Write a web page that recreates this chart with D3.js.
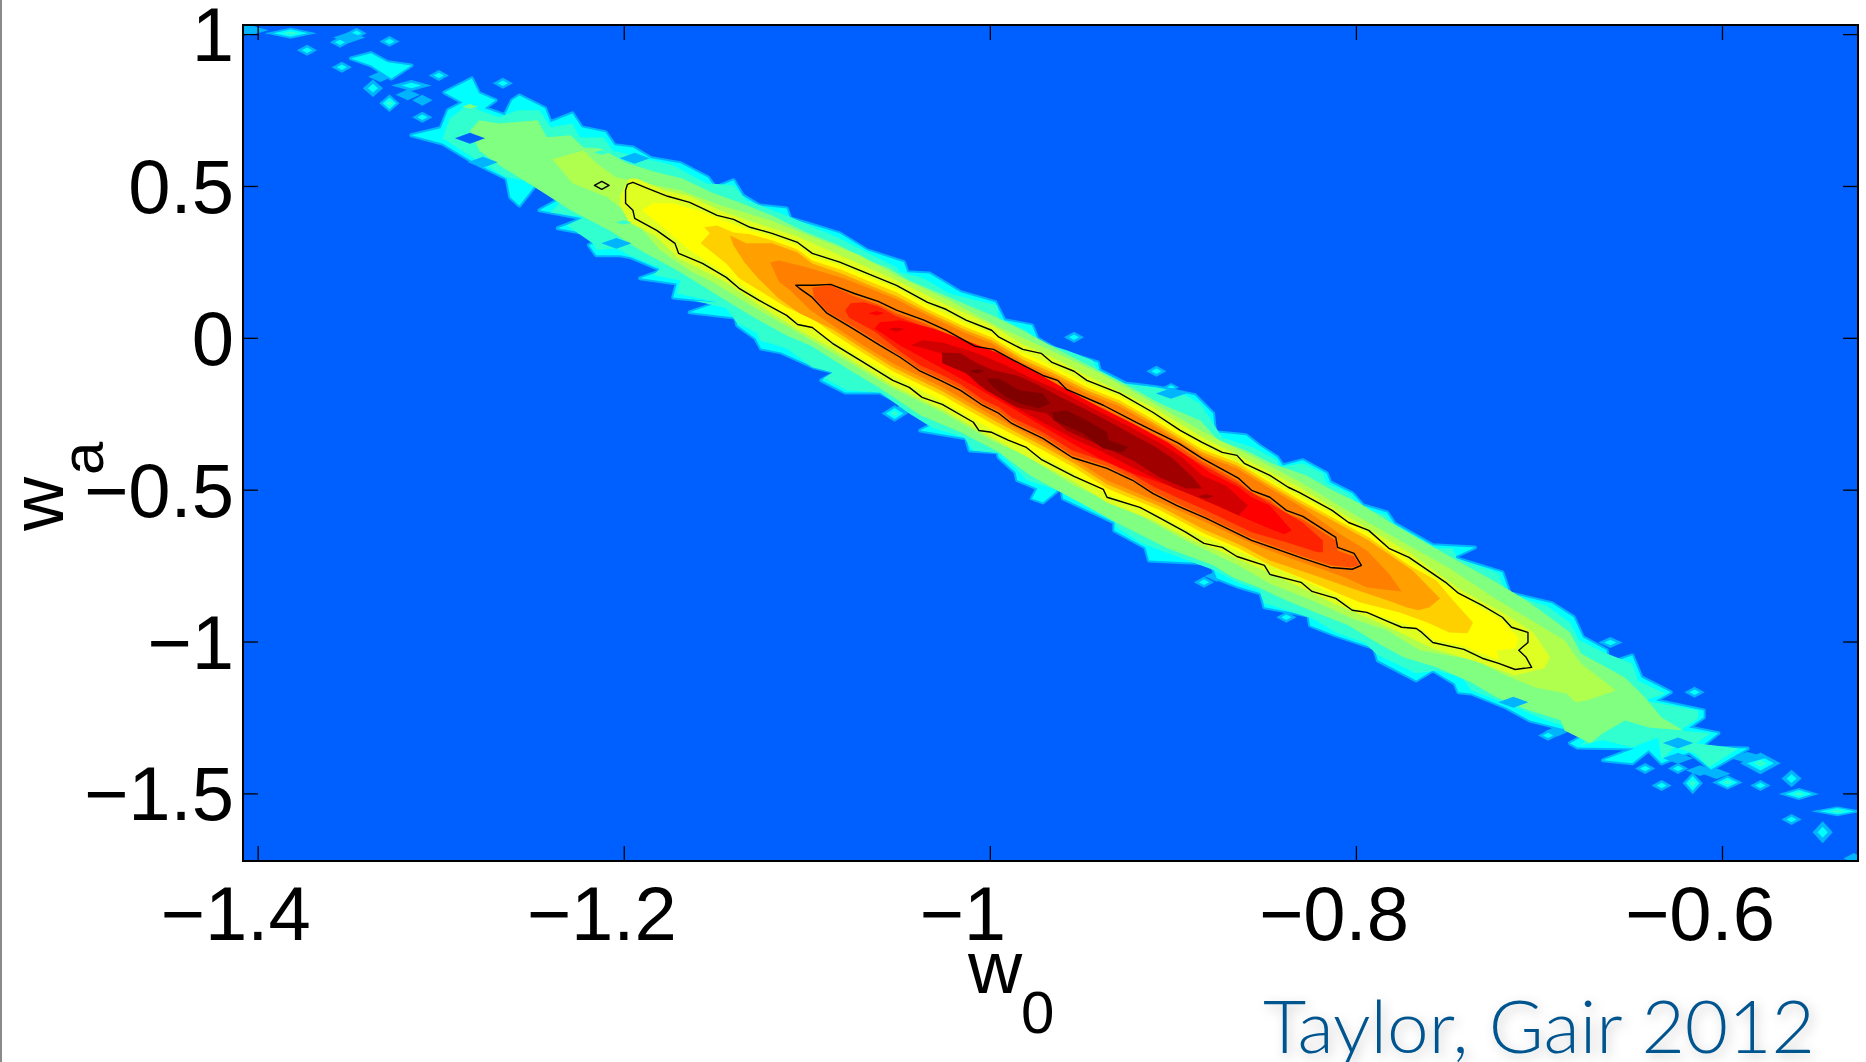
<!DOCTYPE html>
<html lang="en">
<head>
<meta charset="UTF-8" />
<title>w0 wa posterior</title>
<style>
  html, body { margin: 0; padding: 0; background: #fff; }
  svg { display: block; }
  text { font-family: "Liberation Sans", Arial, sans-serif; fill: #000; }
</style>
</head>
<body>
<svg id="chart" width="1866" height="1062"></svg>
<script src="https://cdn.jsdelivr.net/npm/d3@7"></script>
<script>
var xTicks = [-1.4, -1.2, -1, -0.8, -0.6];
var xTickLabels = ["\u22121.4", "\u22121.2", "\u22121", "\u22120.8", "\u22120.6"];
var yTicks = [1, 0.5, 0, -0.5, -1, -1.5];
var yTickLabels = ["1", "0.5", "0", "\u22120.5", "\u22121", "\u22121.5"];
var citation = "Taylor, Gair 2012";

// filled contour bands, low to high as [w0, wa]
var levelCyan = [[-1.316,0.667],[-1.300,0.690],[-1.296,0.749],[-1.288,0.775],[-1.298,0.808],[-1.283,0.854],[-1.279,0.805],[-1.270,0.782],[-1.276,0.756],[-1.265,0.733],[-1.261,0.782],[-1.257,0.798],[-1.243,0.756],[-1.240,0.710],[-1.228,0.739],[-1.223,0.693],[-1.210,0.677],[-1.205,0.634],[-1.195,0.627],[-1.185,0.591],[-1.169,0.575],[-1.154,0.528],[-1.150,0.495],[-1.140,0.519],[-1.135,0.469],[-1.126,0.436],[-1.111,0.426],[-1.109,0.393],[-1.096,0.370],[-1.082,0.344],[-1.067,0.288],[-1.047,0.249],[-1.045,0.216],[-1.033,0.212],[-1.016,0.150],[-0.997,0.117],[-0.992,0.058],[-0.977,0.041],[-0.974,-0.002],[-0.963,-0.041],[-0.941,-0.081],[-0.940,-0.107],[-0.926,-0.150],[-0.909,-0.163],[-0.888,-0.189],[-0.878,-0.249],[-0.877,-0.311],[-0.860,-0.321],[-0.853,-0.354],[-0.843,-0.393],[-0.840,-0.420],[-0.829,-0.403],[-0.816,-0.446],[-0.814,-0.476],[-0.802,-0.512],[-0.796,-0.552],[-0.783,-0.575],[-0.779,-0.611],[-0.758,-0.683],[-0.735,-0.690],[-0.747,-0.723],[-0.720,-0.772],[-0.716,-0.841],[-0.693,-0.874],[-0.681,-0.920],[-0.676,-0.986],[-0.663,-1.029],[-0.662,-1.072],[-0.649,-1.046],[-0.644,-1.118],[-0.628,-1.167],[-0.636,-1.194],[-0.610,-1.227],[-0.610,-1.250],[-0.618,-1.283],[-0.602,-1.302],[-0.612,-1.349],[-0.586,-1.352],[-0.606,-1.421],[-0.612,-1.391],[-0.618,-1.365],[-0.633,-1.401],[-0.640,-1.358],[-0.649,-1.401],[-0.665,-1.391],[-0.648,-1.352],[-0.679,-1.349],[-0.683,-1.335],[-0.673,-1.302],[-0.688,-1.286],[-0.705,-1.260],[-0.718,-1.217],[-0.737,-1.171],[-0.744,-1.167],[-0.746,-1.138],[-0.758,-1.095],[-0.767,-1.128],[-0.788,-1.062],[-0.790,-1.022],[-0.811,-0.980],[-0.825,-0.947],[-0.826,-0.914],[-0.850,-0.887],[-0.852,-0.841],[-0.865,-0.818],[-0.876,-0.792],[-0.879,-0.743],[-0.913,-0.733],[-0.915,-0.690],[-0.932,-0.634],[-0.932,-0.608],[-0.960,-0.529],[-0.961,-0.493],[-0.971,-0.542],[-0.977,-0.529],[-0.974,-0.496],[-0.985,-0.469],[-0.986,-0.443],[-0.995,-0.394],[-0.996,-0.377],[-1.011,-0.371],[-1.013,-0.331],[-1.038,-0.305],[-1.029,-0.278],[-1.041,-0.239],[-1.060,-0.180],[-1.079,-0.180],[-1.092,-0.140],[-1.084,-0.114],[-1.096,-0.097],[-1.114,-0.048],[-1.125,-0.035],[-1.128,-0.002],[-1.138,0.041],[-1.139,0.067],[-1.164,0.084],[-1.148,0.117],[-1.173,0.133],[-1.171,0.179],[-1.191,0.196],[-1.179,0.222],[-1.196,0.265],[-1.202,0.272],[-1.215,0.272],[-1.219,0.305],[-1.209,0.331],[-1.236,0.361],[-1.222,0.393],[-1.246,0.420],[-1.236,0.453],[-1.247,0.512],[-1.257,0.436],[-1.262,0.463],[-1.264,0.525],[-1.282,0.578],[-1.299,0.640]];
var levelCyanTail = [[-1.349,0.920],[-1.338,0.937],[-1.329,0.907],[-1.316,0.897],[-1.327,0.854],[-1.338,0.897]];
var levelTurquoise = [[-1.299,0.657],[-1.295,0.723],[-1.284,0.772],[-1.279,0.749],[-1.268,0.726],[-1.258,0.749],[-1.246,0.749],[-1.240,0.693],[-1.228,0.706],[-1.224,0.660],[-1.211,0.660],[-1.206,0.617],[-1.191,0.594],[-1.173,0.568],[-1.155,0.509],[-1.140,0.502],[-1.133,0.453],[-1.111,0.403],[-1.095,0.361],[-1.082,0.328],[-1.066,0.278],[-1.051,0.232],[-1.049,0.216],[-1.037,0.199],[-1.022,0.146],[-1.007,0.123],[-0.996,0.107],[-0.995,0.064],[-0.980,0.025],[-0.976,-0.008],[-0.958,-0.041],[-0.944,-0.074],[-0.940,-0.114],[-0.928,-0.150],[-0.907,-0.166],[-0.893,-0.189],[-0.885,-0.216],[-0.873,-0.328],[-0.856,-0.361],[-0.843,-0.403],[-0.842,-0.426],[-0.829,-0.413],[-0.818,-0.446],[-0.816,-0.479],[-0.804,-0.512],[-0.798,-0.558],[-0.783,-0.585],[-0.780,-0.624],[-0.758,-0.693],[-0.747,-0.693],[-0.745,-0.726],[-0.722,-0.775],[-0.718,-0.841],[-0.696,-0.881],[-0.683,-0.937],[-0.678,-0.996],[-0.663,-1.039],[-0.649,-1.072],[-0.646,-1.128],[-0.631,-1.171],[-0.642,-1.194],[-0.613,-1.227],[-0.613,-1.253],[-0.623,-1.293],[-0.606,-1.302],[-0.614,-1.335],[-0.591,-1.352],[-0.607,-1.414],[-0.615,-1.368],[-0.626,-1.349],[-0.633,-1.391],[-0.635,-1.316],[-0.649,-1.349],[-0.665,-1.325],[-0.677,-1.342],[-0.672,-1.302],[-0.688,-1.276],[-0.700,-1.250],[-0.718,-1.204],[-0.737,-1.161],[-0.742,-1.118],[-0.756,-1.095],[-0.767,-1.105],[-0.788,-1.045],[-0.795,-1.006],[-0.811,-0.970],[-0.824,-0.924],[-0.850,-0.874],[-0.853,-0.831],[-0.865,-0.805],[-0.877,-0.766],[-0.917,-0.677],[-0.931,-0.624],[-0.932,-0.591],[-0.958,-0.512],[-0.966,-0.496],[-0.980,-0.469],[-0.985,-0.436],[-0.995,-0.380],[-1.009,-0.371],[-1.014,-0.328],[-1.031,-0.298],[-1.044,-0.249],[-1.060,-0.180],[-1.078,-0.173],[-1.091,-0.134],[-1.086,-0.114],[-1.097,-0.097],[-1.111,-0.035],[-1.126,-0.008],[-1.127,0.015],[-1.138,0.048],[-1.144,0.097],[-1.162,0.123],[-1.149,0.117],[-1.171,0.146],[-1.169,0.189],[-1.184,0.206],[-1.180,0.229],[-1.197,0.272],[-1.204,0.295],[-1.215,0.288],[-1.217,0.311],[-1.231,0.370],[-1.222,0.397],[-1.240,0.413],[-1.235,0.446],[-1.246,0.509],[-1.264,0.528],[-1.282,0.591]];
var levelGreen = [[-1.279,0.716],[-1.268,0.706],[-1.247,0.716],[-1.242,0.660],[-1.229,0.667],[-1.222,0.627],[-1.213,0.624],[-1.198,0.575],[-1.182,0.545],[-1.168,0.525],[-1.151,0.476],[-1.137,0.446],[-1.119,0.403],[-1.100,0.347],[-1.082,0.304],[-1.067,0.255],[-1.056,0.232],[-1.044,0.189],[-1.027,0.146],[-1.009,0.100],[-0.996,0.067],[-0.980,0.018],[-0.962,-0.041],[-0.944,-0.097],[-0.925,-0.156],[-0.907,-0.216],[-0.885,-0.272],[-0.875,-0.338],[-0.860,-0.371],[-0.846,-0.413],[-0.827,-0.453],[-0.813,-0.502],[-0.798,-0.545],[-0.783,-0.601],[-0.761,-0.677],[-0.747,-0.726],[-0.725,-0.799],[-0.707,-0.864],[-0.694,-0.920],[-0.683,-0.970],[-0.677,-1.039],[-0.653,-1.118],[-0.642,-1.184],[-0.633,-1.250],[-0.621,-1.293],[-0.640,-1.283],[-0.653,-1.260],[-0.665,-1.302],[-0.672,-1.335],[-0.686,-1.293],[-0.688,-1.260],[-0.705,-1.227],[-0.723,-1.184],[-0.737,-1.135],[-0.756,-1.085],[-0.774,-1.052],[-0.788,-1.006],[-0.804,-0.947],[-0.825,-0.897],[-0.842,-0.854],[-0.853,-0.822],[-0.867,-0.789],[-0.878,-0.749],[-0.903,-0.693],[-0.931,-0.608],[-0.958,-0.519],[-0.978,-0.453],[-0.995,-0.377],[-1.016,-0.311],[-1.038,-0.255],[-1.060,-0.166],[-1.078,-0.101],[-1.098,-0.025],[-1.111,0.008],[-1.131,0.074],[-1.153,0.156],[-1.169,0.216],[-1.191,0.288],[-1.208,0.354],[-1.229,0.420],[-1.246,0.486],[-1.268,0.568],[-1.279,0.617],[-1.284,0.683]];
var levelLime = [[-1.239,0.588],[-1.222,0.617],[-1.215,0.575],[-1.204,0.528],[-1.191,0.512],[-1.169,0.486],[-1.147,0.436],[-1.120,0.387],[-1.095,0.328],[-1.071,0.272],[-1.049,0.199],[-1.022,0.123],[-0.995,0.035],[-0.967,-0.041],[-0.940,-0.117],[-0.913,-0.206],[-0.885,-0.305],[-0.858,-0.387],[-0.831,-0.473],[-0.804,-0.571],[-0.776,-0.667],[-0.749,-0.759],[-0.724,-0.858],[-0.686,-0.996],[-0.677,-1.072],[-0.658,-1.161],[-0.674,-1.194],[-0.680,-1.200],[-0.685,-1.171],[-0.702,-1.151],[-0.718,-1.112],[-0.735,-1.062],[-0.765,-1.029],[-0.783,-0.963],[-0.802,-0.924],[-0.824,-0.864],[-0.847,-0.809],[-0.865,-0.746],[-0.893,-0.667],[-0.918,-0.585],[-0.954,-0.486],[-0.980,-0.390],[-0.999,-0.337],[-1.026,-0.245],[-1.053,-0.166],[-1.086,-0.048],[-1.104,0.015],[-1.126,0.091],[-1.150,0.179],[-1.164,0.222],[-1.180,0.288],[-1.193,0.377],[-1.200,0.420],[-1.209,0.463],[-1.228,0.509],[-1.233,0.545]];
var levelChartreuse = [[-1.202,0.469],[-1.197,0.525],[-1.193,0.525],[-1.178,0.486],[-1.164,0.466],[-1.149,0.423],[-1.131,0.384],[-1.105,0.334],[-1.082,0.272],[-1.067,0.232],[-1.051,0.189],[-1.024,0.110],[-0.999,0.041],[-0.982,-0.021],[-0.966,-0.064],[-0.947,-0.124],[-0.911,-0.229],[-0.885,-0.324],[-0.861,-0.397],[-0.831,-0.492],[-0.804,-0.591],[-0.771,-0.706],[-0.744,-0.825],[-0.720,-0.904],[-0.703,-0.970],[-0.694,-1.052],[-0.697,-1.088],[-0.713,-1.112],[-0.733,-1.068],[-0.758,-1.023],[-0.776,-0.970],[-0.794,-0.920],[-0.811,-0.878],[-0.830,-0.822],[-0.850,-0.766],[-0.873,-0.706],[-0.893,-0.657],[-0.911,-0.601],[-0.936,-0.542],[-0.954,-0.473],[-0.972,-0.417],[-0.999,-0.328],[-1.026,-0.235],[-1.053,-0.157],[-1.086,-0.035],[-1.105,0.028],[-1.126,0.107],[-1.144,0.183],[-1.170,0.262],[-1.183,0.337],[-1.197,0.380],[-1.202,0.436]];
var levelYellow = [[-1.190,0.420],[-1.184,0.443],[-1.173,0.443],[-1.158,0.417],[-1.148,0.393],[-1.131,0.354],[-1.119,0.334],[-1.105,0.304],[-1.097,0.268],[-1.080,0.235],[-1.067,0.202],[-1.051,0.163],[-1.034,0.107],[-1.013,0.048],[-0.999,0.015],[-0.982,-0.048],[-0.966,-0.091],[-0.947,-0.150],[-0.929,-0.193],[-0.911,-0.255],[-0.884,-0.354],[-0.861,-0.423],[-0.837,-0.502],[-0.813,-0.578],[-0.793,-0.644],[-0.771,-0.733],[-0.751,-0.815],[-0.731,-0.891],[-0.720,-0.930],[-0.711,-0.989],[-0.713,-1.023],[-0.723,-1.029],[-0.722,-1.062],[-0.727,-1.049],[-0.741,-1.016],[-0.758,-0.993],[-0.764,-0.960],[-0.783,-0.924],[-0.802,-0.888],[-0.811,-0.848],[-0.830,-0.795],[-0.850,-0.739],[-0.873,-0.680],[-0.893,-0.631],[-0.907,-0.585],[-0.936,-0.515],[-0.954,-0.446],[-0.972,-0.390],[-0.999,-0.301],[-1.009,-0.268],[-1.026,-0.209],[-1.044,-0.153],[-1.069,-0.071],[-1.086,-0.008],[-1.105,0.054],[-1.126,0.133],[-1.144,0.209],[-1.164,0.288],[-1.178,0.361]];
var levelGold = [[-1.158,0.311],[-1.153,0.344],[-1.156,0.364],[-1.149,0.370],[-1.140,0.347],[-1.131,0.341],[-1.119,0.321],[-1.105,0.291],[-1.097,0.255],[-1.080,0.222],[-1.067,0.189],[-1.051,0.150],[-1.034,0.094],[-1.013,0.035],[-0.999,0.002],[-0.982,-0.061],[-0.966,-0.104],[-0.947,-0.163],[-0.929,-0.206],[-0.911,-0.268],[-0.884,-0.367],[-0.865,-0.410],[-0.847,-0.476],[-0.831,-0.532],[-0.813,-0.591],[-0.793,-0.657],[-0.771,-0.749],[-0.756,-0.799],[-0.747,-0.864],[-0.736,-0.937],[-0.739,-0.973],[-0.749,-0.970],[-0.761,-0.937],[-0.776,-0.904],[-0.798,-0.871],[-0.824,-0.805],[-0.847,-0.749],[-0.865,-0.690],[-0.883,-0.644],[-0.907,-0.568],[-0.936,-0.496],[-0.954,-0.427],[-0.972,-0.367],[-0.999,-0.282],[-1.026,-0.189],[-1.053,-0.110],[-1.069,-0.051],[-1.086,0.015],[-1.097,0.064],[-1.111,0.100],[-1.126,0.156],[-1.137,0.196],[-1.144,0.245]];
var levelAmber = [[-1.142,0.337],[-1.133,0.311],[-1.119,0.311],[-1.105,0.281],[-1.097,0.245],[-1.080,0.209],[-1.067,0.176],[-1.051,0.137],[-1.034,0.084],[-1.013,0.025],[-0.999,-0.008],[-0.982,-0.071],[-0.966,-0.114],[-0.947,-0.173],[-0.929,-0.216],[-0.911,-0.278],[-0.884,-0.377],[-0.865,-0.420],[-0.847,-0.486],[-0.831,-0.542],[-0.813,-0.601],[-0.793,-0.667],[-0.769,-0.766],[-0.754,-0.858],[-0.760,-0.888],[-0.766,-0.897],[-0.772,-0.888],[-0.783,-0.864],[-0.802,-0.825],[-0.824,-0.779],[-0.847,-0.733],[-0.865,-0.677],[-0.883,-0.631],[-0.907,-0.555],[-0.936,-0.482],[-0.954,-0.413],[-0.972,-0.354],[-0.999,-0.268],[-1.026,-0.176],[-1.053,-0.097],[-1.069,-0.038],[-1.086,0.028],[-1.104,0.081],[-1.116,0.133],[-1.127,0.199],[-1.134,0.248],[-1.140,0.304]];
var levelOrange = [[-1.120,0.248],[-1.115,0.255],[-1.100,0.232],[-1.080,0.196],[-1.067,0.166],[-1.051,0.127],[-1.034,0.074],[-1.013,0.015],[-0.999,-0.018],[-0.982,-0.081],[-0.966,-0.124],[-0.947,-0.183],[-0.929,-0.226],[-0.911,-0.288],[-0.884,-0.387],[-0.865,-0.430],[-0.847,-0.496],[-0.831,-0.552],[-0.809,-0.644],[-0.794,-0.700],[-0.782,-0.776],[-0.775,-0.835],[-0.794,-0.822],[-0.805,-0.792],[-0.820,-0.759],[-0.836,-0.726],[-0.857,-0.677],[-0.882,-0.608],[-0.898,-0.565],[-0.936,-0.469],[-0.954,-0.400],[-0.972,-0.341],[-0.999,-0.255],[-1.026,-0.163],[-1.053,-0.084],[-1.069,-0.025],[-1.086,0.041],[-1.098,0.091],[-1.109,0.156],[-1.115,0.183]];
var levelVermilion = [[-1.097,0.166],[-1.087,0.173],[-1.074,0.137],[-1.061,0.110],[-1.051,0.081],[-1.036,0.048],[-1.024,0.015],[-1.008,-0.038],[-0.998,-0.048],[-0.987,-0.084],[-0.971,-0.134],[-0.958,-0.180],[-0.938,-0.232],[-0.920,-0.288],[-0.897,-0.357],[-0.884,-0.407],[-0.864,-0.473],[-0.857,-0.512],[-0.847,-0.535],[-0.838,-0.578],[-0.829,-0.598],[-0.811,-0.667],[-0.810,-0.700],[-0.801,-0.720],[-0.798,-0.749],[-0.803,-0.756],[-0.814,-0.749],[-0.829,-0.720],[-0.857,-0.660],[-0.882,-0.588],[-0.898,-0.545],[-0.911,-0.506],[-0.922,-0.463],[-0.936,-0.423],[-0.955,-0.387],[-0.971,-0.324],[-0.988,-0.275],[-0.995,-0.242],[-1.004,-0.216],[-1.016,-0.166],[-1.027,-0.134],[-1.038,-0.104],[-1.049,-0.058],[-1.060,-0.018],[-1.075,0.038],[-1.089,0.087],[-1.096,0.133]];
var levelScarlet = [[-1.076,0.114],[-1.069,0.117],[-1.061,0.104],[-1.051,0.071],[-1.036,0.038],[-1.024,0.005],[-1.008,-0.048],[-0.998,-0.061],[-0.987,-0.094],[-0.971,-0.143],[-0.958,-0.189],[-0.938,-0.245],[-0.920,-0.298],[-0.897,-0.370],[-0.884,-0.417],[-0.864,-0.483],[-0.847,-0.545],[-0.829,-0.608],[-0.818,-0.667],[-0.818,-0.706],[-0.821,-0.706],[-0.838,-0.673],[-0.857,-0.640],[-0.882,-0.568],[-0.898,-0.525],[-0.911,-0.489],[-0.922,-0.450],[-0.936,-0.410],[-0.955,-0.371],[-0.971,-0.311],[-0.988,-0.262],[-0.995,-0.229],[-1.004,-0.203],[-1.016,-0.153],[-1.027,-0.120],[-1.038,-0.091],[-1.049,-0.045],[-1.063,0.021],[-1.077,0.067],[-1.079,0.091]];
var levelRed = [[-1.063,0.031],[-1.060,0.051],[-1.049,0.058],[-1.031,0.031],[-1.016,-0.002],[-0.995,-0.051],[-0.977,-0.107],[-0.962,-0.157],[-0.940,-0.229],[-0.922,-0.282],[-0.903,-0.344],[-0.880,-0.443],[-0.864,-0.492],[-0.857,-0.525],[-0.847,-0.552],[-0.835,-0.634],[-0.839,-0.647],[-0.849,-0.624],[-0.864,-0.585],[-0.880,-0.542],[-0.895,-0.502],[-0.922,-0.446],[-0.940,-0.397],[-0.955,-0.348],[-0.995,-0.206],[-1.016,-0.134],[-1.049,-0.025]];
var levelCrimson = [[-1.043,-0.025],[-1.037,-0.008],[-1.026,-0.015],[-1.007,-0.051],[-0.991,-0.091],[-0.977,-0.134],[-0.962,-0.173],[-0.944,-0.232],[-0.922,-0.298],[-0.907,-0.347],[-0.895,-0.393],[-0.884,-0.453],[-0.871,-0.486],[-0.859,-0.552],[-0.864,-0.585],[-0.876,-0.552],[-0.889,-0.519],[-0.900,-0.493],[-0.922,-0.427],[-0.940,-0.371],[-0.955,-0.331],[-0.973,-0.272],[-0.991,-0.213],[-1.006,-0.157],[-1.016,-0.097],[-1.027,-0.051],[-1.038,-0.031]];
var levelMaroon = [[-1.026,-0.048],[-1.016,-0.051],[-1.007,-0.084],[-0.998,-0.107],[-0.985,-0.124],[-0.973,-0.157],[-0.962,-0.193],[-0.949,-0.232],[-0.936,-0.272],[-0.922,-0.318],[-0.911,-0.354],[-0.900,-0.397],[-0.889,-0.460],[-0.884,-0.496],[-0.893,-0.496],[-0.907,-0.460],[-0.922,-0.403],[-0.940,-0.354],[-0.958,-0.305],[-0.969,-0.249],[-0.985,-0.229],[-1.002,-0.173],[-1.013,-0.117],[-1.026,-0.084]];
var levelPeakA = [[-1.002,-0.134],[-0.995,-0.134],[-0.984,-0.173],[-0.971,-0.183],[-0.967,-0.216],[-0.973,-0.232],[-0.984,-0.216],[-0.991,-0.196],[-0.998,-0.163]];
var levelPeakB = [[-0.966,-0.245],[-0.958,-0.239],[-0.947,-0.272],[-0.936,-0.311],[-0.935,-0.337],[-0.924,-0.360],[-0.928,-0.377],[-0.938,-0.364],[-0.949,-0.315],[-0.965,-0.272]];

// the two black contour lines
var contourOuter = [[-1.195,0.512],[-1.187,0.492],[-1.176,0.466],[-1.164,0.446],[-1.157,0.426],[-1.149,0.403],[-1.140,0.390],[-1.131,0.364],[-1.119,0.344],[-1.105,0.314],[-1.097,0.278],[-1.082,0.249],[-1.067,0.212],[-1.051,0.173],[-1.034,0.117],[-1.024,0.094],[-1.013,0.058],[-0.999,0.025],[-0.995,0.002],[-0.982,-0.038],[-0.972,-0.051],[-0.966,-0.081],[-0.954,-0.110],[-0.947,-0.140],[-0.929,-0.183],[-0.911,-0.245],[-0.896,-0.305],[-0.884,-0.344],[-0.873,-0.377],[-0.865,-0.387],[-0.861,-0.413],[-0.847,-0.453],[-0.837,-0.492],[-0.831,-0.509],[-0.813,-0.568],[-0.804,-0.608],[-0.793,-0.634],[-0.782,-0.693],[-0.771,-0.723],[-0.751,-0.805],[-0.744,-0.841],[-0.731,-0.881],[-0.720,-0.920],[-0.715,-0.953],[-0.706,-0.970],[-0.706,-1.003],[-0.711,-1.029],[-0.707,-1.052],[-0.704,-1.085],[-0.713,-1.092],[-0.722,-1.072],[-0.731,-1.055],[-0.741,-1.026],[-0.758,-1.003],[-0.764,-0.970],[-0.767,-0.957],[-0.775,-0.953],[-0.783,-0.933],[-0.794,-0.904],[-0.802,-0.897],[-0.811,-0.858],[-0.824,-0.835],[-0.830,-0.805],[-0.847,-0.779],[-0.850,-0.749],[-0.865,-0.720],[-0.873,-0.690],[-0.883,-0.677],[-0.893,-0.640],[-0.907,-0.594],[-0.918,-0.558],[-0.936,-0.525],[-0.938,-0.499],[-0.954,-0.456],[-0.972,-0.400],[-0.980,-0.361],[-0.990,-0.337],[-0.999,-0.311],[-1.006,-0.305],[-1.009,-0.278],[-1.026,-0.219],[-1.037,-0.196],[-1.044,-0.163],[-1.053,-0.140],[-1.069,-0.081],[-1.086,-0.018],[-1.097,0.034],[-1.105,0.044],[-1.111,0.074],[-1.126,0.123],[-1.137,0.163],[-1.144,0.199],[-1.157,0.245],[-1.170,0.278],[-1.172,0.311],[-1.182,0.354],[-1.194,0.393],[-1.195,0.420],[-1.199,0.443],[-1.199,0.486],[-1.198,0.505]];
var contourIsland = [[-1.216,0.502],[-1.212,0.515],[-1.208,0.502],[-1.212,0.489]];
var contourInner = [[-1.106,0.173],[-1.096,0.173],[-1.087,0.176],[-1.074,0.146],[-1.061,0.120],[-1.051,0.091],[-1.036,0.058],[-1.024,0.025],[-1.008,-0.028],[-0.998,-0.038],[-0.987,-0.074],[-0.971,-0.124],[-0.963,-0.140],[-0.958,-0.170],[-0.938,-0.222],[-0.920,-0.278],[-0.909,-0.311],[-0.897,-0.347],[-0.884,-0.397],[-0.864,-0.463],[-0.857,-0.502],[-0.847,-0.525],[-0.838,-0.568],[-0.829,-0.588],[-0.811,-0.657],[-0.810,-0.690],[-0.801,-0.710],[-0.797,-0.749],[-0.802,-0.762],[-0.814,-0.756],[-0.829,-0.726],[-0.857,-0.667],[-0.882,-0.594],[-0.898,-0.552],[-0.911,-0.512],[-0.922,-0.469],[-0.936,-0.430],[-0.955,-0.394],[-0.971,-0.331],[-0.988,-0.282],[-0.995,-0.249],[-1.004,-0.222],[-1.016,-0.173],[-1.027,-0.140],[-1.038,-0.110],[-1.049,-0.064],[-1.060,-0.025],[-1.075,0.031],[-1.089,0.081],[-1.097,0.133],[-1.104,0.163]];

// isolated histogram cells: w0, wa, peak level, span in bins across, span in bins up
var cells = [
  [-1.382,1.003,3,2.6,1],[-1.346,1.003,2,1,1],[-1.355,0.973,2,1,1],[-1.350,0.989,1,1.6,1],[-1.328,0.976,2,1,1],
  [-1.373,0.947,2,1,1],[-1.354,0.891,2,1,1],[-1.301,0.864,2,1,1],[-1.337,0.822,2,1,1.6],[-1.328,0.772,3,1,1.6],
  [-1.316,0.831,2,2,1],[-1.310,0.782,1,1,1],[-1.310,0.726,2,1,1],[-1.266,0.838,2,1,1],[-1.333,0.860,1,1.2,1],
  [-1.318,0.800,1,1.2,1],[-1.405,1.013,1,2,1],
  [-0.954,0.002,2,1,1],[-0.909,-0.110,2,1,1],[-0.901,-0.163,2,0.8,0.8],[-1.052,-0.249,3,1.3,1.5],[-1.045,-0.230,1,1.2,1],
  [-0.883,-0.805,2,1,1],[-0.876,-0.785,1,1.2,1],[-0.838,-0.920,2,1,1],[-0.838,-0.890,1,1,1],[-0.695,-1.309,2,1,1],[-0.690,-1.295,1,1.2,1],
  [-0.661,-1.003,2,1.2,1],[-0.615,-1.167,2,1,1],[-0.642,-1.418,2,1,1],[-0.633,-1.474,2,1,1],[-0.624,-1.418,2,1,1],
  [-0.616,-1.467,3,1,2],[-0.597,-1.464,3,1.5,1.3],[-0.579,-1.474,2,1,1],[-0.579,-1.401,3,2,2],[-0.558,-1.502,3,2,1.1],
  [-0.562,-1.451,2,1,1.6],[-0.537,-1.559,3,2.6,0.9],[-0.562,-1.586,2,1,1],[-0.545,-1.628,2,1,2],[-0.528,-1.714,1,1,1],
  [-0.586,-1.382,1,2,1],[-0.612,-1.425,1,1.4,1],[-0.603,-1.435,1,1.4,1]
];
// low spots punched back into the filled bands: w0, wa, level index (0 is the background)
var dips = [
  [-1.284,0.657,0],[-1.194,0.591,1],[-1.204,0.311,1],[-0.901,-0.183,1],[-0.714,-1.200,1],
  [-0.624,-1.334,1],[-0.624,-1.384,1],[-1.277,0.578,1]
];
// small bumps on top of a band: w0, wa, level index
var bumps = [
  [-1.284,0.762,4],[-1.007,-0.110,16],[-1.062,0.081,13],[-1.051,0.028,14],[-0.882,-0.522,15],[-1.212,0.610,3],[-1.200,0.380,3]
];

var levelColors = ["#0060ff","#00b4ff","#00ffff","#30ffd0","#80ff80","#b0ff50","#dfff20","#ffff00","#ffd000","#ffa000","#ff8000","#ff5000","#ff2400","#ff0000","#d20000","#a00000","#800000"];

var frame = {left: 243, right: 1858, top: 25, bottom: 861};
var x = d3.scaleLinear().domain([-1.408, -0.5257]).range([frame.left, frame.right]);
var y = d3.scaleLinear().domain([1.03, -1.7226]).range([frame.top, frame.bottom]);
var binW0 = 0.0055, binWa = 0.018;

var svg = d3.select("#chart");
var defs = svg.append("defs");
defs.append("clipPath").attr("id", "plotClip").append("rect")
    .attr("x", frame.left).attr("y", frame.top)
    .attr("width", frame.right - frame.left).attr("height", frame.bottom - frame.top);
var soft = defs.append("filter").attr("id", "soft")
    .attr("x", 0).attr("y", 0).attr("width", 1).attr("height", 1);
soft.append("feGaussianBlur").attr("stdDeviation", 0.7);
var shadow = defs.append("filter").attr("id", "shadow")
    .attr("x", "-5%").attr("y", "-30%").attr("width", "110%").attr("height", "160%");
shadow.append("feDropShadow").attr("dx", 3).attr("dy", 4).attr("stdDeviation", 6)
    .attr("flood-color", "#000").attr("flood-opacity", 0.22);

// thin grey slide edge on the far left
svg.append("rect").attr("x", 0).attr("y", 0).attr("width", 2).attr("height", 1062).attr("fill", "#8a8a8a");

var plot = svg.append("g").attr("clip-path", "url(#plotClip)");
plot.append("rect")
    .attr("x", frame.left).attr("y", frame.top)
    .attr("width", frame.right - frame.left).attr("height", frame.bottom - frame.top)
    .attr("fill", levelColors[0]);
var field = plot.append("g").attr("filter", "url(#soft)");

var poly = d3.line().x(function(d){ return x(d[0]); }).y(function(d){ return y(d[1]); }).curve(d3.curveLinearClosed);

function diamond(w0, wa, hx, hy){
  return [[w0 - hx, wa], [w0, wa + hy], [w0 + hx, wa], [w0, wa - hy]];
}

// isolated cells, nested so they fade out like the contourf does
cells.forEach(function(c){
  for (var lv = 1; lv <= c[2]; lv++){
    var k = (c[2] - lv + 1) / c[2];
    field.append("path")
        .attr("d", poly(diamond(c[0], c[1], binW0 * c[3] * k, binWa * c[4] * k)))
        .attr("fill", levelColors[lv]);
  }
});

var bands = [
  {pts: levelCyan, lv: 2}, {pts: levelCyanTail, lv: 2}, {pts: levelTurquoise, lv: 3}, {pts: levelGreen, lv: 4},
  {pts: levelLime, lv: 5}, {pts: levelChartreuse, lv: 6}, {pts: levelYellow, lv: 7}, {pts: levelGold, lv: 8},
  {pts: levelAmber, lv: 9}, {pts: levelOrange, lv: 10}, {pts: levelVermilion, lv: 11}, {pts: levelScarlet, lv: 12},
  {pts: levelRed, lv: 13}, {pts: levelCrimson, lv: 14}, {pts: levelMaroon, lv: 15}, {pts: levelPeakA, lv: 16}, {pts: levelPeakB, lv: 16}
];
field.selectAll("path.band")
    .data(bands)
    .enter()
    .append("path")
    .attr("class", "band")
    .attr("d", function(d){ return poly(d.pts); })
    .attr("fill", function(d){ return levelColors[d.lv]; })
    .attr("stroke", function(d){ return d.lv == 2 ? levelColors[1] : "none"; })
    .attr("stroke-width", 4)
    .attr("stroke-linejoin", "round")
    .style("paint-order", "stroke");

dips.forEach(function(c){
  field.append("path")
      .attr("d", poly(diamond(c[0], c[1], binW0 * 1.5, binWa * 1)))
      .attr("fill", levelColors[c[2]]);
});
bumps.forEach(function(c){
  field.append("path")
      .attr("d", poly(diamond(c[0], c[1], binW0 * 0.8, binWa * 0.4)))
      .attr("fill", levelColors[c[2]]);
});

[contourOuter, contourIsland, contourInner].forEach(function(c){
  plot.append("path")
      .attr("d", poly(c))
      .attr("fill", "none")
      .attr("stroke", "#000")
      .attr("stroke-width", 1.4)
      .attr("stroke-linejoin", "round");
});

// axes: ticks point inwards on all four sides
var tickLen = 15;
function tidy(g){
  g.select(".domain").remove();
  g.selectAll(".tick line").attr("stroke", "#000").attr("stroke-width", 1.3);
}
svg.append("g").attr("transform", "translate(0," + frame.bottom + ")")
    .call(d3.axisBottom(x).tickValues(xTicks).tickSize(-tickLen).tickFormat(""))
    .call(tidy);
svg.append("g").attr("transform", "translate(0," + frame.top + ")")
    .call(d3.axisTop(x).tickValues(xTicks).tickSize(-tickLen).tickFormat(""))
    .call(tidy);
svg.append("g").attr("transform", "translate(" + frame.left + ",0)")
    .call(d3.axisLeft(y).tickValues(yTicks).tickSize(-tickLen).tickFormat(""))
    .call(tidy);
svg.append("g").attr("transform", "translate(" + frame.right + ",0)")
    .call(d3.axisRight(y).tickValues(yTicks).tickSize(-tickLen).tickFormat(""))
    .call(tidy);
svg.append("rect")
    .attr("x", frame.left).attr("y", frame.top)
    .attr("width", frame.right - frame.left).attr("height", frame.bottom - frame.top)
    .attr("fill", "none").attr("stroke", "#000").attr("stroke-width", 2);

var labelSize = 76;
svg.selectAll("text.xlab")
    .data(xTicks)
    .enter()
    .append("text")
    .attr("class", "xlab")
    .attr("x", function(d){ return x(d) + (d == -1 ? -27 : -22); })
    .attr("y", 940)
    .attr("text-anchor", "middle")
    .style("font-size", labelSize + "px")
    .text(function(d, i){ return xTickLabels[i]; });
svg.selectAll("text.ylab")
    .data(yTicks)
    .enter()
    .append("text")
    .attr("class", "ylab")
    .attr("x", 234)
    .attr("y", function(d){ return y(d) + 27; })
    .attr("text-anchor", "end")
    .style("font-size", labelSize + "px")
    .text(function(d, i){ return yTickLabels[i]; });

// axis names
svg.append("text").attr("x", 968).attr("y", 993).style("font-size", "75px").text("w");
svg.append("text").attr("x", 1021).attr("y", 1033).style("font-size", "60px").text("0");
svg.append("text").attr("transform", "translate(63,531) rotate(-90)").style("font-size", "75px").text("w");
svg.append("text").attr("transform", "translate(103,475) rotate(-90)").style("font-size", "60px").text("a");

svg.append("text")
    .attr("x", 1263).attr("y", 1053)
    .attr("textLength", 552)
    .attr("lengthAdjust", "spacingAndGlyphs")
    .attr("filter", "url(#shadow)")
    .style("font-family", "Lato, 'Open Sans', sans-serif")
    .style("font-weight", 300)
    .style("font-size", "72px")
    .style("fill", "#00548f")
    .text(citation);
</script>
</body>
</html>
